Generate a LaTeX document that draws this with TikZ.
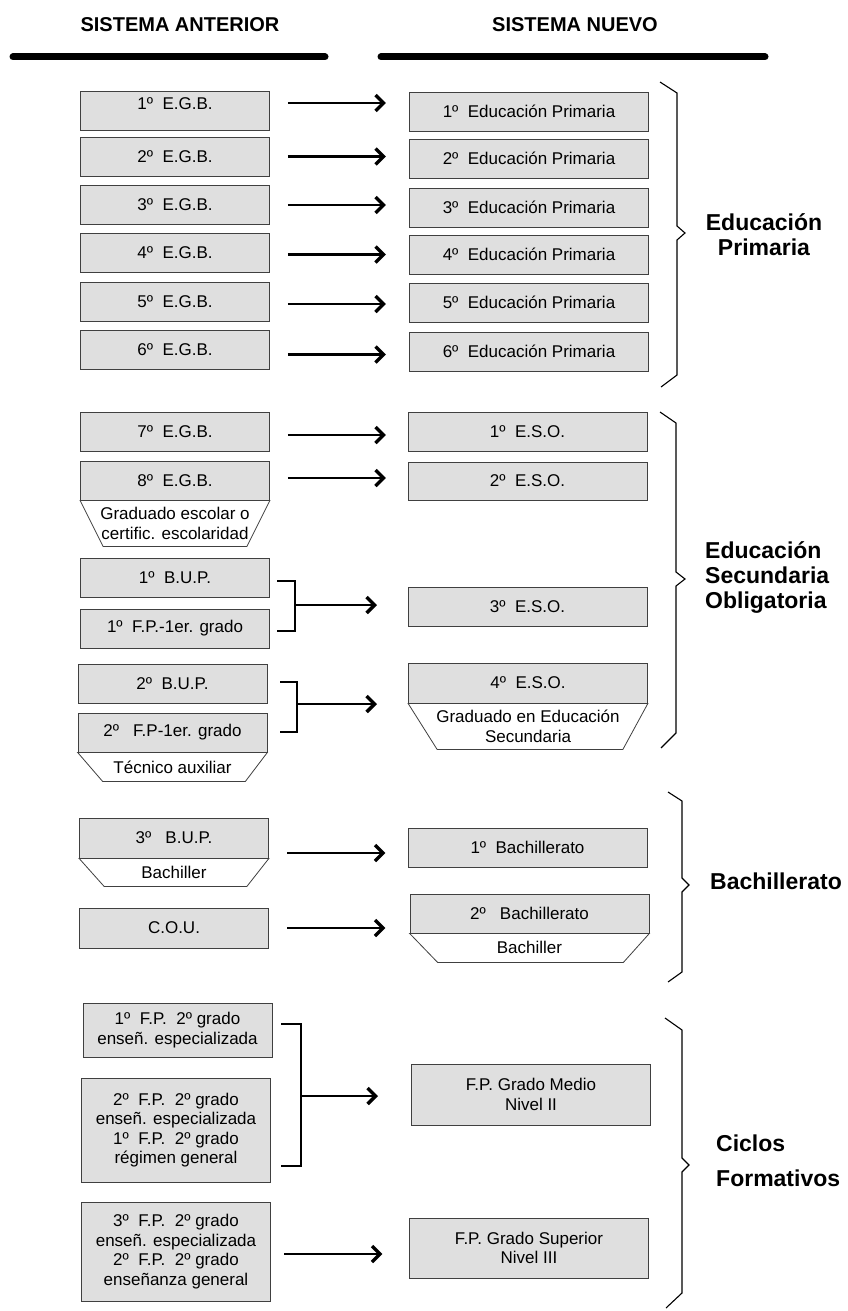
\documentclass[tikz,border=0pt]{standalone}
\usepackage{fontspec}
\setmainfont{Liberation Sans}
\usetikzlibrary{arrows.meta,calc}
\definecolor{boxfill}{HTML}{DFDFDF}
\definecolor{boxline}{HTML}{404040}
\tikzset{
  base/.style={font=\fontsize{17}{19.4}\selectfont, align=center, inner sep=0pt},
  lbox/.style={base, draw=boxline, fill=boxfill, line width=0.8pt, minimum width=189pt},
  rbox/.style={lbox, minimum width=239pt},
  trap/.style={draw=boxline, fill=white, line width=0.8pt, line join=miter},
  traptext/.style={base},
  arr/.style={line width=2.8pt, -{Straight Barb[length=8pt,width=16pt,line width=3.4pt]}},
  brk/.style={line width=1.6pt},
  brace/.style={line width=1.1pt, line join=miter},
  grp/.style={font=\bfseries\fontsize{23}{25}\selectfont, inner sep=0pt},
  head/.style={font=\bfseries\fontsize{20}{24}\selectfont, inner sep=0pt},
  bar/.style={line width=7pt, line cap=round},
}
\begin{document}
\begin{tikzpicture}[x=1pt,y=-1pt]
\fill[white] (0,0) rectangle (848,1311);
\useasboundingbox (0,0) rectangle (848,1311);

% headings
\node[head] (h1) at (180,25) {SISTEMA ANTERIOR};
\node[head] (h2) at (575,25) {SISTEMA NUEVO};
\draw[bar] (13,57) -- (325,57);
\draw[bar] (381,57) -- (765,57);

% ---------- Primaria ----------
\node[lbox, minimum height=39pt, text height=12pt, text depth=13pt] (l1) at (175,110.5) {1º\ \ E.G.B.};
\node[lbox, minimum height=39pt] (l2) at (175,156.5) {2º\ \ E.G.B.};
\node[lbox, minimum height=39pt] (l3) at (175,204.5) {3º\ \ E.G.B.};
\node[lbox, minimum height=39pt] (l4) at (175,252.5) {4º\ \ E.G.B.};
\node[lbox, minimum height=39pt] (l5) at (175,301.5) {5º\ \ E.G.B.};
\node[lbox, minimum height=39pt] (l6) at (175,349.5) {6º\ \ E.G.B.};

\node[rbox, minimum height=39pt] (r1) at (529,111.5) {1º\ \ Educación Primaria};
\node[rbox, minimum height=39pt] (r2) at (529,158.5) {2º\ \ Educación Primaria};
\node[rbox, minimum height=39pt] (r3) at (529,207.5) {3º\ \ Educación Primaria};
\node[rbox, minimum height=39pt] (r4) at (529,254.5) {4º\ \ Educación Primaria};
\node[rbox, minimum height=39pt] (r5) at (529,302.5) {5º\ \ Educación Primaria};
\node[rbox, minimum height=39pt] (r6) at (529,351.5) {6º\ \ Educación Primaria};

\draw[arr] (l1.east) ++(18,-7.5) -- ++(98,0);
\draw[arr] (l2.east) ++(18,0) -- ++(98,0);
\draw[arr] (l3.east) ++(18,0.5) -- ++(98,0);
\draw[arr] (l4.east) ++(18,2) -- ++(98,0);
\draw[arr] (l5.east) ++(18,2.5) -- ++(98,0);
\draw[arr] (l6.east) ++(18,5) -- ++(98,0);

% ---------- ESO ----------
\node[lbox, minimum height=39pt] (l7) at (175,431.5) {7º\ \ E.G.B.};
\node[lbox, minimum height=39pt] (l8) at (175,480.5) {8º\ \ E.G.B.};
\draw[trap] (l8.south west) -- ++(23,46) -- ($(l8.south east)+(-23,46)$) -- (l8.south east) -- cycle;
\node[traptext] (t8) at ($(l8.south)+(0,23)$) {Graduado escolar o\\certific. escolaridad};

\node[lbox, minimum height=39pt] (l9) at (175,577.5) {1º\ \ B.U.P.};
\node[lbox, minimum height=39pt] (l10) at (175,628.5) {1º\ \ F.P.-1er. grado};
\node[lbox, minimum height=39pt] (l11) at (172.5,683.5) {2º\ \ B.U.P.};
\node[lbox, minimum height=39pt] (l12) at (172.5,732.5) {2º\ \ \ F.P-1er. grado};
\draw[trap] (l12.south west) -- ++(25,29) -- ($(l12.south east)+(-22,29)$) -- (l12.south east) -- cycle;
\node[traptext] (t12) at ($(l12.south)+(0,14.5)$) {Técnico auxiliar};

\node[rbox, minimum height=39pt] (r7) at (527.5,431.5) {1º\ \ E.S.O.};
\node[rbox, minimum height=38pt] (r8) at (527.5,481) {2º\ \ E.S.O.};
\node[rbox, minimum height=39pt] (r9) at (527.5,606.5) {3º\ \ E.S.O.};
\node[rbox, minimum height=40pt] (r10) at (528,683) {4º\ \ E.S.O.};
\draw[trap] (r10.south west) -- ++(29,46) -- ($(r10.south east)+(-25,46)$) -- (r10.south east) -- cycle;
\node[traptext] (t10) at ($(r10.south)+(0,23)$) {Graduado en Educación\\Secundaria};

\draw[arr] (l7.east) ++(18,3.5) -- ++(98,0);
\draw[arr] (l8.east) ++(18,-2.5) -- ++(98,0);

\coordinate (j1) at (295,605);
\draw[brk] ($(l9.east)+(7.5,3.5)$) -| (j1) |- ($(l10.east)+(7.5,2.5)$);
\draw[arr] (j1) -- ++(82,0);
\coordinate (j2) at (297,704);
\draw[brk] ($(l11.east)+(13,-1.5)$) -| (j2) |- ($(l12.east)+(13,-0.5)$);
\draw[arr] (j2) -- ++(80,0);

% ---------- Bachillerato ----------
\node[lbox, minimum height=40pt] (l13) at (174,838) {3º\ \ \ B.U.P.};
\draw[trap] (l13.south west) -- ++(25,28) -- ($(l13.south east)+(-22,28)$) -- (l13.south east) -- cycle;
\node[traptext] (t13) at ($(l13.south)+(0,14)$) {Bachiller};
\node[lbox, minimum height=40pt] (l14) at (174,928) {C.O.U.};

\node[rbox, minimum height=39pt] (r11) at (527.5,847.5) {1º\ \ Bachillerato};
\node[rbox, minimum height=39pt] (r12) at (529.5,913.5) {2º\ \ \ Bachillerato};
\draw[trap] (r12.south west) -- ++(28,29) -- ($(r12.south east)+(-26,29)$) -- (r12.south east) -- cycle;
\node[traptext] (t12r) at ($(r12.south)+(0,14.5)$) {Bachiller};

\draw[arr] (l13.east) ++(18.5,15) -- ++(98,0);
\draw[arr] (l14.east) ++(18.5,0) -- ++(98,0);

% ---------- Ciclos ----------
\node[lbox, minimum height=54pt] (l15) at (177.5,1030) {1º\ \ F.P.\ \ 2º grado\\enseñ. especializada};
\node[lbox, minimum height=104pt] (l16) at (176,1130) {2º\ \ F.P.\ \ 2º grado\\enseñ. especializada\\1º\ \ F.P.\ \ 2º grado\\régimen general};
\node[lbox, minimum height=99pt] (l17) at (176,1251.5) {3º\ \ F.P.\ \ 2º grado\\enseñ. especializada\\2º\ \ F.P.\ \ 2º grado\\enseñanza general};

\node[rbox, minimum height=61pt] (r13) at (531,1094.5) {F.P. Grado Medio\\Nivel II};
\node[rbox, minimum height=60pt] (r14) at (529,1248) {F.P. Grado Superior\\Nivel III};

\coordinate (j3) at (301,1096);
\draw[brk] ($(l15.east)+(9,-6)$) -| (j3) |- ($(l16.east)+(10.5,36)$);
\draw[arr] (j3) -- ++(77,0);
\draw[arr] (l17.east) ++(13.5,2.5) -- ++(98,0);

% ---------- braces ----------
\draw[brace] (660,82) -- (677,93) -- (677,226) -- (685,233) -- (677,240) -- (677,375) -- (661,387);
\draw[brace] (660,412) -- (676,423) -- (676,572) -- (685,579) -- (676,586) -- (676,733) -- (661,748);
\draw[brace] (668,792) -- (682,801) -- (682,878) -- (689,885) -- (682,892) -- (682,972) -- (668,982);
\draw[brace] (665,1018) -- (682,1030) -- (682,1158) -- (689,1165) -- (682,1172) -- (682,1293) -- (666,1308);

% ---------- group labels ----------
\node[grp, align=center] (g1) at (764,235) {Educación\\Primaria};
\node[grp, align=left, anchor=west] (g2) at (705,577) {Educación\\Secundaria\\Obligatoria};
\node[grp, anchor=west] (g3) at (710,881) {Bachillerato};
\node[grp, align=left, anchor=west, font=\bfseries\fontsize{23}{35}\selectfont] (g4) at (716,1161) {Ciclos\\Formativos};
\end{tikzpicture}
\end{document}
